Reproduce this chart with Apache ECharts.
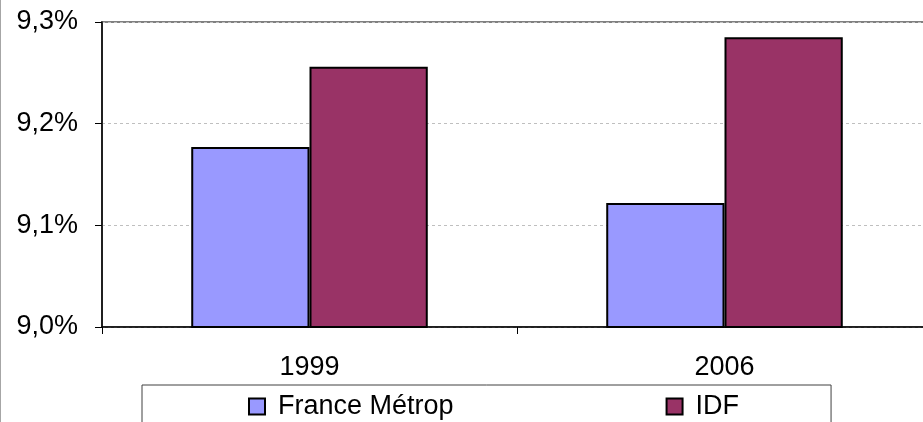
<!DOCTYPE html>
<html>
<head>
<meta charset="utf-8">
<script src="https://cdn.jsdelivr.net/npm/echarts@6/dist/echarts.min.js"></script>
<style>
  html, body { margin: 0; padding: 0; background: #fff; overflow: hidden; }
  #chart-container { width: 932px; height: 422px; }
</style>
</head>
<body>
<div id="chart-container"></div>
<script>
var years = ['1999', '2006'];
var france = [9.177, 9.122];
var idf = [9.256, 9.285];
var yTicks = [9.0, 9.1, 9.2, 9.3];

var dom = document.getElementById('chart-container');
var myChart = echarts.init(dom, null, { renderer: 'canvas' });
var font = '"Liberation Sans", Arial, sans-serif';

var option = {
  animation: false,
  backgroundColor: '#fff',
  textStyle: { fontFamily: font },
  graphic: [
    { type: 'line', shape: { x1: 0.5, y1: 0, x2: 0.5, y2: 422 }, style: { stroke: '#a6a6a6', lineWidth: 1 } }
  ],
  grid: {
    left: 102, top: 22, right: 0, bottom: 95,
    show: true, borderColor: '#808080', borderWidth: 2, backgroundColor: '#fff'
  },
  legend: {
    left: 142, top: 385,
    padding: [8, 92, 20, 106],
    borderColor: '#404040', borderWidth: 1,
    icon: 'rect',
    itemWidth: 16, itemHeight: 16, itemGap: 212,
    textStyle: { fontSize: 27, color: '#000', fontFamily: font, padding: [0, 0, 0, 8] },
    itemStyle: { borderColor: '#000', borderWidth: 2 },
    data: ['France Métrop', 'IDF']
  },
  xAxis: {
    type: 'category',
    data: years,
    axisLine: { lineStyle: { color: '#000', width: 1.5 } },
    axisTick: { show: true, length: 7, lineStyle: { color: '#000' } },
    axisLabel: { fontSize: 27, color: '#000', margin: 27, fontFamily: font }
  },
  yAxis: {
    type: 'value',
    min: yTicks[0], max: yTicks[yTicks.length - 1], interval: 0.1,
    axisLine: { show: true, lineStyle: { color: '#000', width: 1.5 } },
    axisTick: { show: true, length: 7, lineStyle: { color: '#000' } },
    axisLabel: {
      fontSize: 27, color: '#000', margin: 24, fontFamily: font,
      formatter: function (v) { return v.toFixed(1).replace('.', ',') + '%'; }
    },
    splitLine: { show: true, lineStyle: { color: '#bfbfbf', type: [3, 3], width: 1 } }
  },
  series: [
    {
      name: 'France Métrop', type: 'bar', data: france,
      barGap: '0%', barCategoryGap: '43%',
      itemStyle: { color: '#9999ff', borderColor: '#000', borderWidth: 2 }
    },
    {
      name: 'IDF', type: 'bar', data: idf,
      itemStyle: { color: '#993366', borderColor: '#000', borderWidth: 2 }
    }
  ]
};

myChart.setOption(option);
window.addEventListener('resize', myChart.resize);
</script>
</body>
</html>
